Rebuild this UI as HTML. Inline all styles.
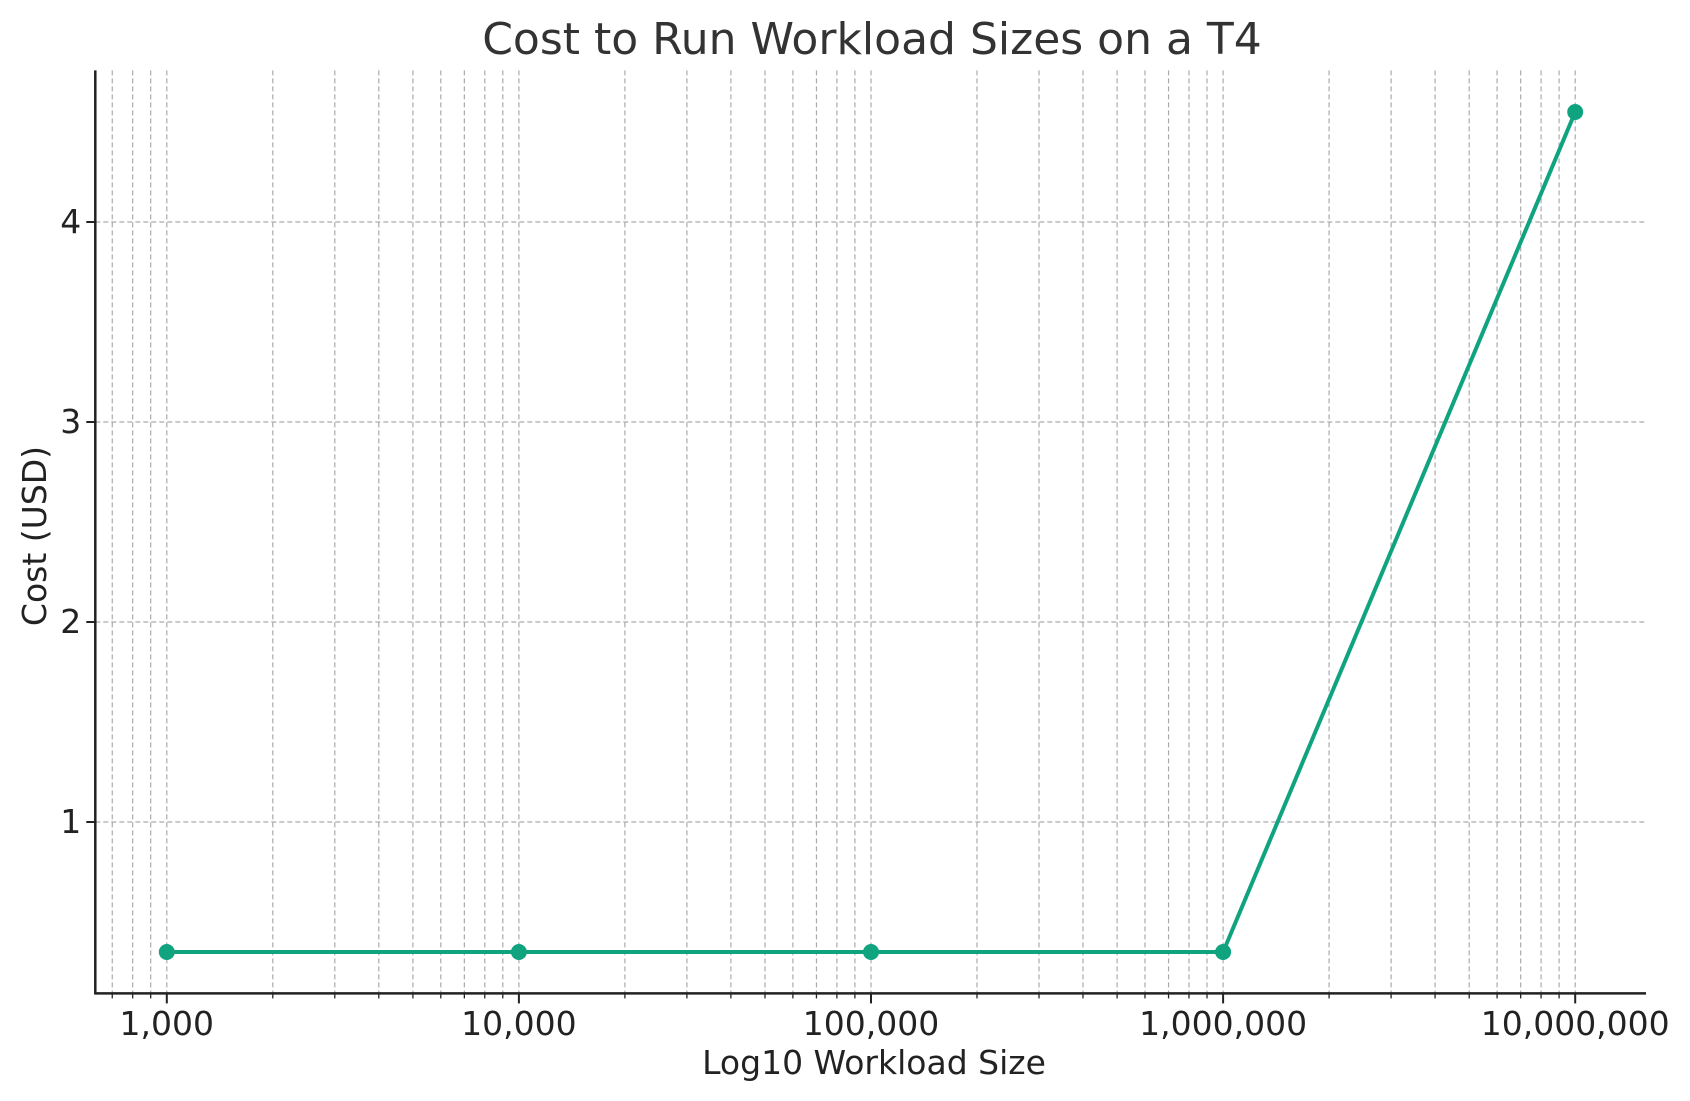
<!DOCTYPE html>
<html><head><meta charset="utf-8"><style>
html,body{margin:0;padding:0;background:#fff;}
svg{display:block;font-family:"DejaVu Sans","Liberation Sans",sans-serif;}
</style></head><body>
<svg id="chart" width="1690" height="1101" viewBox="0 0 1690 1101" xmlns="http://www.w3.org/2000/svg">
<text x="872" y="54" font-size="44" text-anchor="middle" fill="#333">Cost to Run Workload Sizes on a T4</text>
<g id="grid"></g>
<g id="series"></g>
<g id="axes"></g>
<text x="874" y="1074" font-size="33" text-anchor="middle" fill="#222">Log10 Workload Size</text>
<text transform="translate(46,536) rotate(-90)" font-size="33" text-anchor="middle" fill="#222">Cost (USD)</text>
</svg>
<script>
const categories = [1000, 10000, 100000, 1000000, 10000000];
const costValues = [0.35, 0.35, 0.35, 0.35, 4.55];
const xTickLabels = ["1,000", "10,000", "100,000", "1,000,000", "10,000,000"];
const yTicks = [1, 2, 3, 4];

const L = 95.3, R = 1646, T = 70.4, B = 993.4;
const x0 = 166.8, decade = 352.1;
const xMin = 3 - (x0 - L) / decade, xMax = 3 + (R - x0) / decade;
const yZero = 1022, yUnit = 200;
function xs(v){ return x0 + (Math.log10(v) - 3) * decade; }
function ys(v){ return yZero - v * yUnit; }
const NS = "http://www.w3.org/2000/svg";
function mk(tag, attrs, parent){ const e = document.createElementNS(NS, tag); for (const k in attrs) e.setAttribute(k, attrs[k]); parent.appendChild(e); return e; }
const grid = document.getElementById('grid'), axes = document.getElementById('axes'), series = document.getElementById('series');

for (let d = 2; d <= 7; d++) {
  for (let m = 1; m <= 9; m++) {
    const v = m * Math.pow(10, d);
    const lv = Math.log10(v);
    if (lv < xMin || lv > xMax) continue;
    const x = xs(v);
    const g = mk('line', {x1:x, x2:x, y1:T, y2:B, stroke:'#ababab', 'stroke-width':1.2, 'stroke-dasharray':'5,3'}, grid);
    
    
    const t = mk('line', {x1:x, x2:x, y1:B, y2:B + (m === 1 ? 10 : 5), stroke:'#222', 'stroke-width': m === 1 ? 2 : 1.3}, axes);
    
    
  }
}
yTicks.forEach(v => {
  const y = ys(v);
  const g = mk('line', {x1:L, x2:R, y1:y, y2:y, stroke:'#ababab', 'stroke-width':1.2, 'stroke-dasharray':'5,3'}, grid);
  
  
  const t = mk('line', {x1:L - 9, x2:L, y1:y, y2:y, stroke:'#222', 'stroke-width':2}, axes);
  
  
  const lb = mk('text', {x:L - 14, y:y + 11, 'font-size':33, 'text-anchor':'end', fill:'#222'}, axes);
  
  
  lb.textContent = v;
});
categories.forEach((c, i) => {
  const lb = mk('text', {x:xs(c), y:1035, 'font-size':33, 'text-anchor':'middle', fill:'#222'}, axes);
  
  
  lb.textContent = xTickLabels[i];
});
const ax1 = mk('line', {x1:L, x2:L, y1:T, y2:B + 1, stroke:'#222', 'stroke-width':2.5}, axes);


const ax2 = mk('line', {x1:L - 1, x2:R, y1:B, y2:B, stroke:'#222', 'stroke-width':2.5}, axes);



const pts = categories.map((c, i) => xs(c) + ',' + ys(costValues[i])).join(' ');
const line = mk('polyline', {points:pts, fill:'none', stroke:'#10a37f', 'stroke-width':4, 'stroke-linejoin':'round'}, series);


categories.forEach((c, i) => {
  const p = mk('circle', {cx:xs(c), cy:ys(costValues[i]), r:8, fill:'#10a37f'}, series);
  
  
});
</script>
</body></html>
